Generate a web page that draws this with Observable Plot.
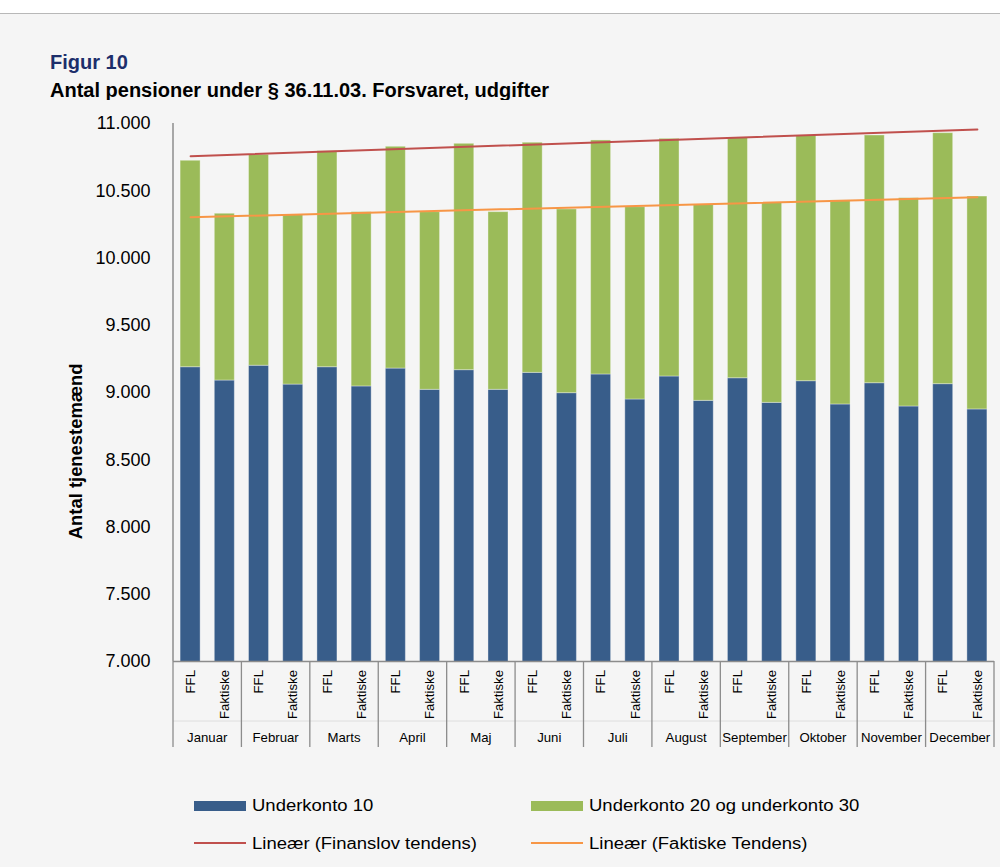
<!DOCTYPE html>
<html>
<head>
<meta charset="utf-8">
<script src="https://cdn.jsdelivr.net/npm/d3@7"></script>
<script src="https://cdn.jsdelivr.net/npm/@observablehq/plot@0.6"></script>
<style>
html, body { margin: 0; padding: 0; background: #f5f5f5; }
body { width: 1000px; height: 867px; position: relative; overflow: hidden;
  font-family: "Liberation Sans", Arial, Helvetica, sans-serif; }
#topbar { position: absolute; left: 0; top: 0; width: 1000px; height: 13px; background: #fff; border-bottom: 1px solid #b8b8b8; }
.t { position: absolute; white-space: nowrap; line-height: 1; }
#fig { left: 50px; top: 52.4px; font-size: 20px; font-weight: bold; color: #1c2e6b; }
#sub { left: 50px; top: 80.4px; font-size: 20px; font-weight: bold; color: #000; }
#chart { position: absolute; left: 0; top: 100px; }
.sw { position: absolute; }
.lt { position: absolute; font-size: 15.8px; line-height: 1; transform: scaleX(1.17); transform-origin: 0 0; color: #000; white-space: nowrap; }
</style>
</head>
<body>
<div id="topbar"></div>
<div class="t" id="fig">Figur 10</div>
<div class="t" id="sub">Antal pensioner under § 36.11.03. Forsvaret, udgifter</div>
<div id="chart"></div>
<div id="legend"></div>
<script>
// ---- data ----
const months = ["Januar","Februar","Marts","April","Maj","Juni","Juli","August","September","Oktober","November","December"];
const types = ["FFL","Faktiske"];
const underkonto10FFL      = [9188, 9199, 9188, 9178, 9166, 9146, 9134, 9119, 9106, 9084, 9069, 9062];
const underkonto10Faktiske = [9089, 9059, 9045, 9020, 9020, 8995, 8948, 8938, 8923, 8911, 8896, 8874];
const underkonto2030FFL      = [1535, 1568, 1606, 1649, 1683, 1711, 1740, 1767, 1788, 1827, 1842, 1866];
const underkonto2030Faktiske = [1240, 1262, 1296, 1321, 1321, 1366, 1430, 1460, 1487, 1517, 1549, 1583];
// linear trend lines: value at Januar FFL and at December Faktiske
const trendFinanslov = [10757, 10955];
const trendFaktiske  = [10303, 10452];
const yTicks = [7000, 7500, 8000, 8500, 9000, 9500, 10000, 10500, 11000];
const seriesNames = ["Underkonto 10", "Underkonto 20 og underkonto 30"];
const trendNames = ["Lineær (Finanslov tendens)", "Lineær (Faktiske Tendens)"];
const yLabel = "Antal tjenestemænd";

// ---- styles ----
const barColors = ["#385d8a", "#9bbb59"];
const trendColors = ["#c0504d", "#f79646"];
const axisGray = "#8c8c8c";

// ---- tables ----
const keys = months.flatMap(m => types.map(t => m + "|" + t));
const rows = [];
months.forEach((m, i) => {
  rows.push({key: m + "|FFL", serie: seriesNames[0], v: underkonto10FFL[i]});
  rows.push({key: m + "|FFL", serie: seriesNames[1], v: underkonto2030FFL[i]});
  rows.push({key: m + "|Faktiske", serie: seriesNames[0], v: underkonto10Faktiske[i]});
  rows.push({key: m + "|Faktiske", serie: seriesNames[1], v: underkonto2030Faktiske[i]});
});
const firstKey = keys[0], lastKey = keys[keys.length - 1];
const trendRows = [
  {key: firstKey, v: trendFinanslov[0], s: trendNames[0]},
  {key: lastKey, v: trendFinanslov[1], s: trendNames[0]},
  {key: firstKey, v: trendFaktiske[0], s: trendNames[1]},
  {key: lastKey, v: trendFaktiske[1], s: trendNames[1]}
];

const fmt = d3.formatLocale({decimal: ",", thousands: ".", grouping: [3], currency: ["", ""]}).format(",d");

const chart = Plot.plot({
  width: 1000,
  height: 660,
  marginTop: 23,
  marginBottom: 99,
  marginLeft: 173,
  marginRight: 6,
  style: {fontFamily: "'Liberation Sans', Arial, sans-serif", background: "#f5f5f5", color: "#000", overflow: "visible"},
  x: {domain: keys, paddingInner: 0.415, paddingOuter: 0.2075, round: false, label: null},
  y: {domain: [7000, 11000], label: null},
  color: {domain: seriesNames, range: barColors},
  marks: [
    Plot.barY(rows, {x: "key", y: "v", fill: "serie", clip: true, stroke: "#ffffff", strokeOpacity: 0.35, strokeWidth: 1}),
    Plot.line(trendRows, {x: "key", y: "v", z: "s", stroke: d => d.s === trendNames[0] ? trendColors[0] : trendColors[1], strokeWidth: 2}),
    Plot.ruleY([7000], {stroke: axisGray, strokeWidth: 1.5}),
    Plot.axisY(yTicks, {tickFormat: fmt, tickSize: 0, tickPadding: 23, fontSize: 18, label: null}),
    Plot.axisX({tickFormat: k => k.split("|")[1], tickRotate: -90, tickSize: 0, tickPadding: 8.5, fontSize: 13.2, label: null})
  ]
});
document.getElementById("chart").appendChild(chart);

// ---- axis decorations via the plot's own scales ----
const sx = chart.scale("x");
const sy = chart.scale("y");
const svg = d3.select(chart);
const g = svg.append("g");
const x0 = sx.range[0], x1 = sx.range[1];
const yBottom = sy.apply(7000);
// left axis line
g.append("line").attr("x1", x0).attr("x2", x0).attr("y1", sy.apply(11000)).attr("y2", yBottom)
  .attr("stroke", axisGray).attr("stroke-width", 1.5);
// faint divider between the two label levels
g.append("line").attr("x1", x0).attr("x2", x1).attr("y1", yBottom + 60).attr("y2", yBottom + 60)
  .attr("stroke", "#dedede").attr("stroke-width", 1);
const gap = (sx.step - sx.bandwidth) / 2;
const seps = months.map(m => sx.apply(m + "|FFL") - gap);
seps.push(sx.apply(lastKey) + sx.bandwidth + gap);
seps.forEach(xx => {
  g.append("line").attr("x1", xx).attr("x2", xx).attr("y1", yBottom).attr("y2", yBottom + 86)
    .attr("stroke", axisGray).attr("stroke-width", 1.3);
});
months.forEach(m => {
  const cx = sx.apply(m + "|FFL") + sx.bandwidth / 2 + sx.step / 2;
  g.append("text").attr("x", cx).attr("y", yBottom + 80.7).attr("text-anchor", "middle")
    .attr("font-size", 13.2).attr("fill", "#000").text(m);
});
// y axis title
g.append("text").attr("transform", `translate(81.7, ${351.3}) rotate(-90)`)
  .attr("text-anchor", "middle").attr("font-size", 18.4).attr("font-weight", "bold").attr("fill", "#000").text(yLabel);

// ---- legend ----
const legend = document.getElementById("legend");
const cols = [194, 531];
const add = (html) => legend.insertAdjacentHTML("beforeend", html);
seriesNames.forEach((s, i) => {
  add(`<div class="sw" style="left:${cols[i]}px;top:801px;width:52px;height:10px;background:${barColors[i]}"></div>`);
  add(`<div class="lt" style="left:${cols[i] + 57.7}px;top:798.3px">${s}</div>`);
});
trendNames.forEach((s, i) => {
  add(`<div class="sw" style="left:${cols[i]}px;top:841.7px;width:52px;height:2px;background:${trendColors[i]}"></div>`);
  add(`<div class="lt" style="left:${cols[i] + 57.7}px;top:835.9px">${s}</div>`);
});
</script>
</body>
</html>
